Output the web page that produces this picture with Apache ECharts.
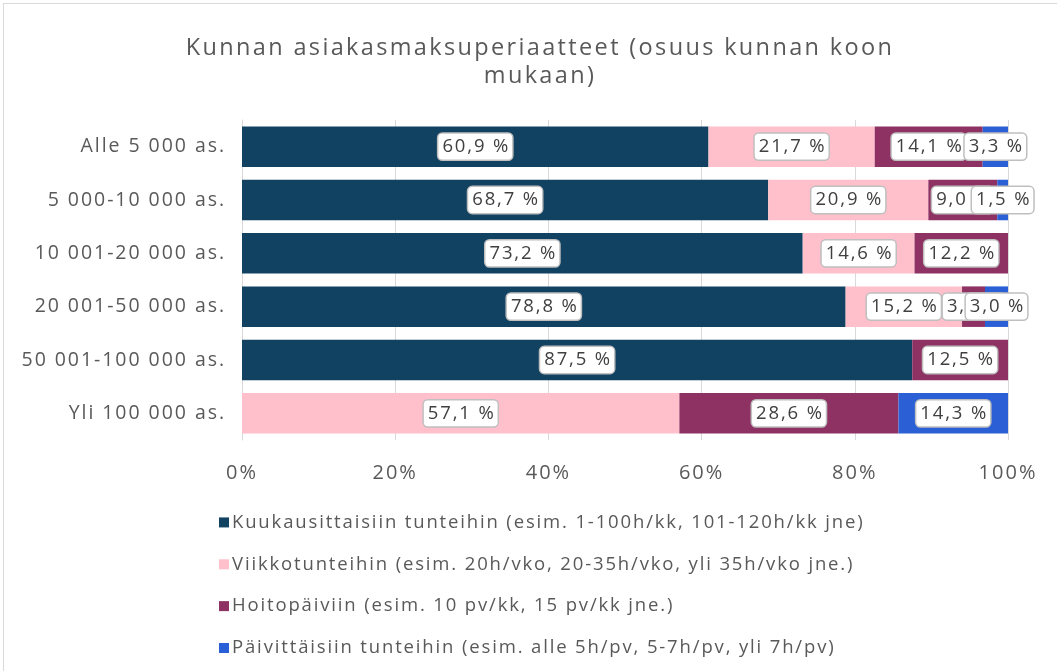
<!DOCTYPE html>
<html>
<head>
    <meta charset="utf-8">
    <title>Kunnan asiakasmaksuperiaatteet</title>
    <script src="https://cdn.jsdelivr.net/npm/echarts@6/dist/echarts.min.js"></script>
    <style>
        html, body { margin: 0; padding: 0; background: #fff; }
        #main { position: absolute; left: 3px; top: 3px; width: 1060px; height: 680px; border: 1px solid #d9d9d9; box-sizing: border-box; }
    </style>
</head>
<body>
    <div id="main"></div>
    <script type="text/javascript">
        // kuntakoot (ylhaalta alas)
        var categories = ["Alle 5 000 as.", "5 000-10 000 as.", "10 001-20 000 as.", "20 001-50 000 as.", "50 001-100 000 as.", "Yli 100 000 as."];
        var seriesNames = [
            "Kuukausittaisiin tunteihin (esim. 1-100h/kk, 101-120h/kk jne)",
            "Viikkotunteihin (esim. 20h/vko, 20-35h/vko, yli 35h/vko jne.)",
            "Hoitopäiviin (esim. 10 pv/kk, 15 pv/kk jne.)",
            "Päivittäisiin tunteihin (esim. alle 5h/pv, 5-7h/pv, yli 7h/pv)"
        ];
        var kuukausi = [60.9, 68.7, 73.2, 78.8, 87.5, null];
        var viikko = [21.7, 20.9, 14.6, 15.2, null, 57.1];
        var hoitopaiva = [14.1, 9.0, 12.2, 3.0, 12.5, 28.6];
        var paiva = [3.3, 1.5, null, 3.0, null, 14.3];
        var colors = ["#124262", "#FFC0CB", "#8E3263", "#2A5FD6"];

        // alkuperainen fontti on harvaan kirjoitettu -> lisataan kirjainvali canvasiin
        var fontProp = Object.getOwnPropertyDescriptor(CanvasRenderingContext2D.prototype, "font");
        Object.defineProperty(CanvasRenderingContext2D.prototype, "font", {
            get: fontProp.get,
            set: function (v) {
                fontProp.set.call(this, v);
                var m = /(\d+(\.\d+)?)px/.exec(v);
                if (m) this.letterSpacing = (parseFloat(m[1]) * 0.1).toFixed(2) + "px";
            }
        });

        var FONT = "Open Sans";
        var myChart = echarts.init(document.getElementById("main"));

        function makeSeries(name, data, color) {
            return {
                name: name,
                type: "bar",
                stack: "total",
                barCategoryGap: "24%",
                itemStyle: { color: color },
                label: {
                    show: true,
                    position: "inside",
                    formatter: function (p) {
                        return p.value == null ? "" : p.value.toFixed(1).replace(".", ",") + " %";
                    },
                    color: "#404040",
                    fontFamily: FONT,
                    fontSize: 18.5,
                    backgroundColor: "#ffffff",
                    borderColor: "#bfbfbf",
                    borderWidth: 1.5,
                    borderRadius: 4,
                    padding: [3, 2, 2, 4]
                },
                data: data
            };
        }

        var option = {
            animation: false,
            textStyle: { fontFamily: FONT },
            title: {
                text: "Kunnan asiakasmaksuperiaatteet (osuus kunnan koon\nmukaan)",
                left: 531,
                top: 25,
                textAlign: "center",
                textStyle: {
                    color: "#595959",
                    fontSize: 23.5,
                    fontWeight: "normal",
                    lineHeight: 28,
                    fontFamily: FONT
                }
            },
            legend: {
                orient: "vertical",
                left: 210,
                top: 503,
                itemWidth: 10,
                itemHeight: 10,
                itemGap: 21,
                icon: "rect",
                data: seriesNames,
                textStyle: { color: "#595959", fontSize: 18.5, fontFamily: FONT, padding: [0, 0, 0, -2] }
            },
            grid: {
                left: 238,
                right: 54,
                top: 116,
                height: 320,
                containLabel: false
            },
            xAxis: {
                type: "value",
                min: 0,
                max: 100,
                interval: 20,
                axisLabel: {
                    formatter: "{value}%",
                    color: "#595959",
                    fontSize: 20,
                    margin: 22
                },
                splitLine: { lineStyle: { color: "#d9d9d9", width: 1 } },
                axisLine: { show: false },
                axisTick: { show: false }
            },
            yAxis: {
                type: "category",
                inverse: true,
                data: categories,
                axisLabel: { color: "#595959", fontSize: 19.5, margin: 16 },
                axisLine: { show: true, lineStyle: { color: "#d9d9d9" } },
                axisTick: { show: false }
            },
            series: [
                makeSeries(seriesNames[0], kuukausi, colors[0]),
                makeSeries(seriesNames[1], viikko, colors[1]),
                makeSeries(seriesNames[2], hoitopaiva, colors[2]),
                makeSeries(seriesNames[3], paiva, colors[3])
            ]
        };
        myChart.setOption(option);
    </script>
</body>
</html>
